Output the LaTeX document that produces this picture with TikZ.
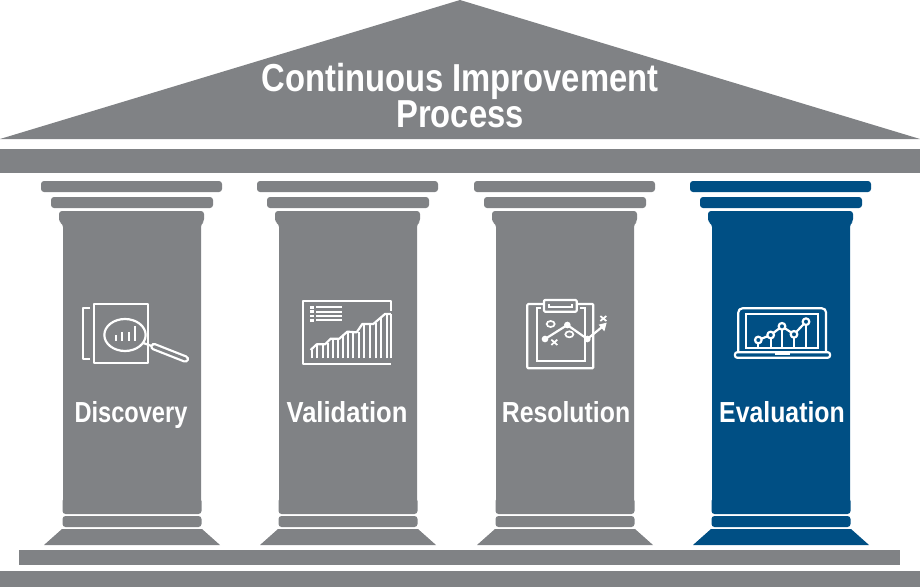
\documentclass[tikz,border=0pt]{standalone}
\usepackage{fontspec}
\setsansfont[FakeStretch=0.84]{Liberation Sans}
\definecolor{templegray}{HTML}{808285}
\definecolor{templeblue}{HTML}{004F84}
\usetikzlibrary{positioning}

\begin{document}
\begin{tikzpicture}[
        x=1pt, y=-1pt,
        font=\sffamily\bfseries,
        % Estilos
        block/.style={fill=templegray},
        title/.style={text=white, font=\sffamily\bfseries\fontsize{39}{36}\selectfont, align=center, inner sep=0pt},
        caption/.style={text=white, font=\sffamily\bfseries\fontsize{29}{30}\selectfont, inner sep=0pt, anchor=base},
        icon/.style={draw=white, line width=2.2pt, line join=round},
        iconthin/.style={draw=white, line width=1.7pt},
        pillar/.pic={
            \fill[pic actions, rounded corners=3pt] (41,181) rectangle (222,192);
            \fill[pic actions, rounded corners=3pt] (51,197) rectangle (213,208);
            \fill[pic actions, rounded corners=3pt] (59,211) -- (204,211) -- (204,222) -- (201,224) -- (201,503) -- (63,503) -- (63,224) -- (59,222) -- cycle;
            \fill[pic actions, rounded corners=3pt] (62.5,498) rectangle (201.5,514);
            \fill[pic actions, rounded corners=3pt] (62.5,516) rectangle (201.5,527);
            \fill[pic actions] (62,529) -- (202,529) -- (220,545) -- (44,545) -- cycle;
        }
    ]

    \useasboundingbox (0,0) rectangle (920,587);

    % Techo y bases
    \fill[block] (0,139) -- (460,0) -- (920,139) -- cycle;
    \fill[block] (0,149) rectangle (920,173);
    \fill[block] (19,550) rectangle (900,565);
    \fill[block] (0,571) rectangle (920,587);

    % Columnas
    \pic[fill=templegray] at (0,0) {pillar};
    \pic[fill=templegray] at (216,0) {pillar};
    \pic[fill=templegray] at (433,0) {pillar};
    \pic[fill=templeblue] at (649,0) {pillar};

    % Textos
    \node[title] (roof) at (460,96) {Continuous Improvement\\Process};
    \node[caption, xscale=0.97] (discovery) at (131,422) {Discovery};
    \node[caption, xscale=1.05] (validation) at (347,422) {Validation};
    \node[caption, xscale=1.02] (resolution) at (566,422) {Resolution};
    \node[caption, xscale=1.02] (evaluation) at (782,422) {Evaluation};

    % Icono de la lupa
    \begin{scope}[shift={(60,290)}, x=0.3333pt, y=-0.3333pt]
        \draw[icon] (90,55) -- (68,55) -- (68,208) -- (90,208);
        \draw[icon] (103,42) rectangle (263,218);
        \draw[icon, fill=templegray] (195,135) ellipse (62 and 48);
        \draw[icon] (168,152) -- (168,135);
        \draw[icon] (187,152) -- (187,126);
        \draw[icon] (206,152) -- (206,126);
        \draw[icon] (226,152) -- (226,108);
        \draw[icon] (247,158) -- (275,168);
        \draw[white, line width=7.5pt, line cap=round] (282,170) -- (376,207);
        \draw[templegray, line width=3pt, line cap=round] (282,170) -- (376,207);
    \end{scope}

    % Icono del grafico de barras
    \begin{scope}[shift={(290,290)}, x=0.3333pt, y=-0.3333pt]
        \draw[icon] (303,62) -- (303,33) -- (40,33) -- (40,222) -- (303,222);
        \foreach \px/\py in {66/180, 82/165, 98/163, 113/160, 128/148, 145/148, 160/135, 175/125, 190/125, 207/125, 222/103, 240/103, 257/100, 272/85, 290/72, 303/72}
            \draw[iconthin] (\px,205) -- (\px,\py);
        \draw[icon] (62,180) -- (80,163) -- (105,163) -- (122,146) -- (148,146) -- (172,125) -- (200,127) -- (217,102) -- (250,102) -- (285,72) -- (303,72);
        \foreach \py in {52,65,78,91} {
            \fill[white] (61,\py-4) rectangle (71,\py+4);
            \draw[iconthin] (78,\py) -- (155,\py);
        }
    \end{scope}

    % Icono de la tablilla
    \begin{scope}[shift={(510,290)}, x=0.3333pt, y=-0.3333pt]
        \draw[icon, rounded corners=1pt] (102,42) -- (52,42) -- (52,235) -- (250,235) -- (250,42) -- (200,42);
        \draw[iconthin] (92,55) -- (80,55) -- (80,212) -- (225,212) -- (225,55) -- (210,55);
        \draw[icon, rounded corners=1pt] (102,65) -- (102,30) -- (200,30) -- (200,65) -- cycle;
        \draw[iconthin] (118,42) -- (118,52) -- (185,52) -- (185,42);
        \draw[icon] (105,147) -- (172,105) -- (232,147);
        \draw[icon] (232,147) -- (275,112);
        \fill[white] (290,98) -- (266,104) -- (283,124) -- cycle;
        \fill[white] (105,147) circle (10);
        \fill[white] (172,105) circle (10);
        \fill[white] (232,147) circle (10);
        \draw[iconthin] (122,102) ellipse (12 and 9);
        \draw[iconthin] (178,133) ellipse (12 and 9);
        \draw[iconthin] (124,149) -- (142,165) (142,149) -- (124,165);
        \draw[iconthin] (271,78) -- (289,93) (289,78) -- (271,93);
    \end{scope}

    % Icono del portatil
    \begin{scope}[shift={(720,295)}, x=0.3333pt, y=-0.3333pt]
        \draw[icon, rounded corners=4pt] (55,172) -- (55,40) -- (318,40) -- (318,172);
        \draw[iconthin] (78,57) rectangle (295,158);
        \draw[icon, rounded corners=2pt, fill=templeblue] (45,172) rectangle (330,188);
        \draw[iconthin] (165,177) -- (210,177);
        \foreach \px/\py in {115/135, 152/120, 186/94, 222/118, 258/80}
            \draw[icon] (\px,\py) -- (\px,158);
        \draw[icon] (115,135) -- (152,120) -- (186,94) -- (222,118) -- (258,80);
        \foreach \px/\py in {115/135, 152/120, 186/94, 222/118, 258/80}
            \draw[icon, fill=templeblue] (\px,\py) circle (10);
    \end{scope}

\end{tikzpicture}
\end{document}
